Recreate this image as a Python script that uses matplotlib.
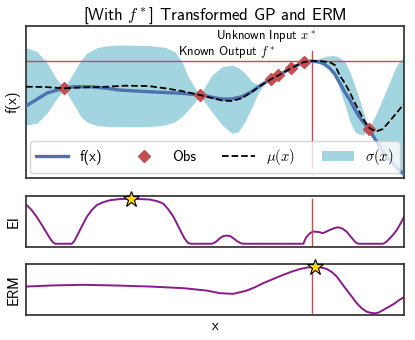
import numpy as np
import matplotlib.pyplot as plt

# ---- data ----
f_x = [0.000, 0.030, 0.056, 0.083, 0.101, 0.127, 0.171, 0.215, 0.246, 0.323, 0.412, 0.460,
       0.474, 0.496, 0.518, 0.544, 0.571, 0.597, 0.624, 0.649, 0.667, 0.702, 0.735, 0.757, 0.778,
       0.791, 0.804, 0.817, 0.831, 0.844, 0.857, 0.868, 0.879, 0.890, 0.901, 0.907, 0.928, 0.954, 0.981, 1.000]
f_y = [0.500, 0.733, 0.933, 1.033, 1.090, 1.143, 1.143, 1.090, 1.033, 0.977, 0.923, 0.867,
       0.843, 0.780, 0.733, 0.733, 0.810, 0.977, 1.223, 1.400, 1.517, 1.767, 1.967, 2.000, 1.957,
       1.880, 1.757, 1.560, 1.250, 0.950, 0.700, 0.430, 0.200, 0.000, -0.167, -0.267, -0.700, -1.200, -1.567, -1.767]

mu_x = [0.000, 0.050, 0.101, 0.143, 0.214, 0.262, 0.323, 0.368, 0.412, 0.460, 0.492, 0.519,
        0.545, 0.571, 0.598, 0.624, 0.649, 0.667, 0.702, 0.735, 0.757, 0.778, 0.804, 0.817,
        0.831, 0.844, 0.857, 0.870, 0.884, 0.897, 0.910, 0.926, 0.944, 0.967, 1.000]
mu_y = [1.143, 1.133, 1.090, 1.117, 1.143, 1.177, 1.167, 1.090, 1.000, 0.867, 0.767, 0.683,
        0.667, 0.757, 0.977, 1.200, 1.400, 1.517, 1.767, 1.967, 2.000, 2.000, 1.957, 1.867,
        1.500, 1.250, 0.950, 0.600, 0.267, -0.033, -0.250, -0.350, -0.267, 0.067, 0.567]

band_x = [0.000, 0.029, 0.056, 0.079, 0.101, 0.127, 0.146, 0.161, 0.188, 0.214, 0.246, 0.323,
          0.368, 0.394, 0.413, 0.429, 0.447, 0.460, 0.492, 0.519, 0.545, 0.561, 0.579, 0.598,
          0.614, 0.632, 0.649, 0.667, 0.685, 0.702, 0.720, 0.735, 0.757, 0.778, 0.796, 0.812,
          0.825, 0.844, 0.857, 0.870, 0.878, 0.892, 0.902, 0.907, 0.929, 0.955, 0.981, 1.000]
band_hi = [2.443, 2.317, 1.933, 1.433, 1.090, 1.643, 2.033, 2.267, 2.443, 2.510, 2.533, 2.517,
           2.457, 2.310, 1.967, 1.477, 1.100, 0.867, 1.533, 1.810, 1.867, 1.783, 1.600, 1.310,
           1.217, 1.267, 1.417, 1.533, 1.667, 1.783, 1.883, 1.983, 2.017, 2.100, 2.167, 2.183,
           2.150, 1.977, 1.633, 1.167, 0.867, 0.333, -0.033, -0.250, 0.310, 1.090, 1.867, 2.150]
band_lo = [-0.133, -0.077, 0.267, 0.700, 1.077, 0.533, 0.133, -0.033, -0.150, -0.183, -0.190, -0.190,
           -0.133, -0.023, 0.150, 0.367, 0.633, 0.850, 0.300, -0.133, -0.410, -0.367, -0.023, 0.467,
           0.923, 1.250, 1.383, 1.500, 1.617, 1.750, 1.867, 1.950, 1.983, 1.950, 1.900, 1.767,
           1.233, 0.533, -0.023, -0.357, -0.417, -0.467, -0.317, -0.267, -0.633, -1.233, -1.633, -1.900]

obs_x = [0.101, 0.460, 0.649, 0.667, 0.702, 0.735, 0.907]
obs_y = [1.090, 0.867, 1.400, 1.517, 1.767, 1.967, -0.267]

f_star = 2.0
x_star = 0.757

ei_x = [0.002, 0.015, 0.028, 0.042, 0.055, 0.066, 0.072, 0.077, 0.121, 0.127, 0.134, 0.147,
        0.161, 0.174, 0.187, 0.204, 0.222, 0.249, 0.278, 0.302, 0.328, 0.347, 0.363, 0.376,
        0.390, 0.401, 0.412, 0.420, 0.429, 0.436, 0.491, 0.498, 0.505, 0.513, 0.522, 0.531,
        0.540, 0.548, 0.558, 0.567, 0.575, 0.734, 0.738, 0.742, 0.747, 0.752, 0.760, 0.773,
        0.786, 0.804, 0.815, 0.826, 0.837, 0.848, 0.857, 0.866, 0.872, 0.879, 0.945, 0.953,
        0.963, 0.972, 0.981, 0.990, 1.000]
ei_y = [0.867, 0.756, 0.607, 0.422, 0.238, 0.089, 0.030, 0.000, 0.000, 0.050, 0.162, 0.378,
        0.607, 0.756, 0.867, 0.933, 0.978, 1.004, 1.011, 1.004, 0.993, 0.956, 0.904, 0.778,
        0.607, 0.422, 0.238, 0.110, 0.016, 0.000, 0.000, 0.020, 0.060, 0.127, 0.172, 0.184,
        0.172, 0.127, 0.060, 0.015, 0.000, 0.000, 0.089, 0.150, 0.200, 0.240, 0.273, 0.265,
        0.238, 0.311, 0.350, 0.371, 0.340, 0.273, 0.180, 0.089, 0.030, 0.000, 0.000, 0.040,
        0.127, 0.210, 0.311, 0.440, 0.607]

erm_x = [0.002, 0.063, 0.152, 0.240, 0.328, 0.416, 0.478, 0.513, 0.548, 0.584, 0.605, 0.628,
         0.655, 0.681, 0.703, 0.725, 0.745, 0.765, 0.781, 0.796, 0.809, 0.822, 0.835, 0.848,
         0.862, 0.875, 0.888, 0.901, 0.912, 0.923, 0.934, 0.945, 0.960, 0.976, 0.988, 1.000]
erm_y = [0.578, 0.600, 0.615, 0.600, 0.578, 0.543, 0.491, 0.435, 0.420, 0.491, 0.560, 0.652,
         0.745, 0.833, 0.900, 0.957, 0.990, 1.000, 0.990, 0.957, 0.890, 0.796, 0.650, 0.507,
         0.360, 0.217, 0.110, 0.035, 0.010, 0.000, 0.020, 0.072, 0.140, 0.217, 0.290, 0.348]

# ---- style ----
plt.rcParams['font.family'] = ['cmss10', 'DejaVu Sans']
plt.rcParams['mathtext.fontset'] = 'cm'
plt.rcParams['axes.unicode_minus'] = False
plt.rcParams['axes.formatter.use_mathtext'] = True

blue = '#4C72B0'
red = '#C44E52'
band_col = '#a3d5e1'
purple = '#8a1a8a'
fs = 10.5

fig = plt.figure(figsize=(4.15, 3.4), dpi=100)
ax1 = fig.add_axes([26/415, 1-178/340, 378/415, 152/340])
ax2 = fig.add_axes([26/415, 1-247/340, 378/415, 51/340])
ax3 = fig.add_axes([26/415, 1-315/340, 378/415, 51/340])

# top panel
h_band = ax1.fill_between(band_x, band_lo, band_hi, color=band_col, lw=0, zorder=1)
ax1.axhline(f_star, color=red, lw=1, zorder=2)
ax1.axvline(x_star, ymin=0.066, ymax=0.835, color=red, lw=1, zorder=2)
h_f, = ax1.plot(f_x, f_y, color=blue, lw=2.4, zorder=3)
h_obs, = ax1.plot(obs_x, obs_y, 'D', color=red, ms=6.5, zorder=4)
h_mu, = ax1.plot(mu_x, mu_y, 'k--', lw=1.3, zorder=5)
ax1.text(0.503, 2.84, r'Unknown Input $x^*$', fontsize=9, va='center')
ax1.text(0.403, 2.30, r'Known Output $f^*$', fontsize=9, va='center')
ax1.set_xlim(0, 1)
ax1.set_ylim(-1.9, 3.167)
ax1.set_ylabel('f(x)', fontsize=fs, labelpad=4)
ax1.set_title(r'[With $f^*$] Transformed GP and ERM', fontsize=12, pad=4)
leg = ax1.legend([h_f, h_obs, h_mu, h_band], ['f(x)', 'Obs', r'$\mu(x)$', r'$\sigma(x)$'],
                 ncol=4, loc='center', bbox_to_anchor=(-0.009, 0.046, 1.017, 0.184),
                 mode='expand', fontsize=fs, handlelength=2.2, numpoints=1,
                 frameon=True, fancybox=True, framealpha=0.8, edgecolor='#cccccc',
                 borderpad=0.4, handletextpad=0.8)
leg.set_zorder(10)

# EI panel
ax2.plot(ei_x, ei_y, color=purple, lw=1.4)
ax2.axvline(x_star, ymin=0.01, ymax=0.95, color=red, lw=1)
i = int(np.argmax(ei_y))
ax2.plot(ei_x[i], ei_y[i], '*', ms=12, mfc='gold', mec='k', mew=0.8, clip_on=False, zorder=5)
ax2.set_xlim(0, 1)
ax2.set_ylim(-0.073, 1.073)
ax2.set_ylabel('EI', fontsize=fs, labelpad=4)

# ERM panel
ax3.plot(erm_x, erm_y, color=purple, lw=1.4)
ax3.axvline(x_star, ymin=0.045, ymax=0.95, color=red, lw=1)
j = int(np.argmax(erm_y))
ax3.plot(erm_x[j], erm_y[j], '*', ms=12, mfc='gold', mec='k', mew=0.8, clip_on=False, zorder=5)
ax3.set_xlim(0, 1)
ax3.set_ylim(-0.037, 1.065)
ax3.set_ylabel('ERM', fontsize=fs, labelpad=4)
ax3.set_xlabel('x', fontsize=fs, labelpad=3)

for ax in (ax1, ax2, ax3):
    ax.set_xticks([])
    ax.set_yticks([])
    for s in ax.spines.values():
        s.set_color('#333333')
        s.set_linewidth(1.25)

fig.savefig('out.png', dpi=100)
